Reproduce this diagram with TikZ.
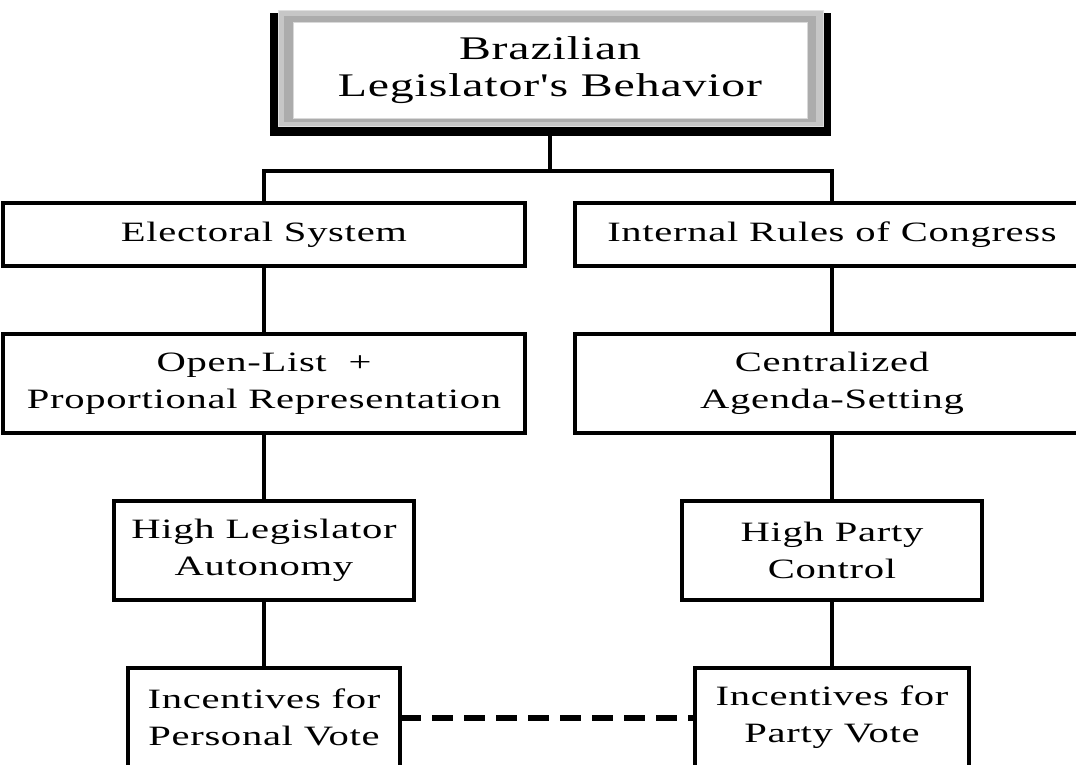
\documentclass[tikz,border=0pt]{standalone}
\usepackage{fontspec}
\setmainfont{Liberation Serif}[Ligatures=TeXOff, FakeStretch=1.45, LetterSpace=2.5]
\usepackage{tikz}
\usetikzlibrary{positioning, calc, backgrounds}

\begin{document}
\begin{tikzpicture}[
  x=1pt, y=-1pt,
  box/.style={draw, line width=3.3pt, outer sep=0pt, fill=white, align=center,
              minimum height=99pt, inner sep=0pt,
              font=\fontsize{28}{37}\selectfont},
  topbox/.style={box, draw=gray!30, line width=1pt, minimum width=514pt,
                 minimum height=96pt, font=\fontsize{33}{37}\selectfont},
  conn/.style={line width=3.3pt},
  dashlink/.style={line width=6pt, dash pattern=on 21pt off 11pt},
]
  \useasboundingbox (0,0) rectangle (1076,764);
  \clip (0,0) rectangle (1076,764);

  \node[topbox] (beh) at (550,70) {Brazilian\\Legislator's Behavior};
  \begin{scope}[on background layer]
    \fill[black] ($(beh.north west)+(-23,-9)$) rectangle ($(beh.south east)+(24,18)$);
    \filldraw[fill=gray!45, draw=gray!25, line width=1pt]
      ($(beh.north west)+(-15,-12)$) rectangle ($(beh.south east)+(16,8)$);
    \fill[gray!65] ($(beh.north west)+(-9,-6)$) rectangle ($(beh.south east)+(9,4)$);
  \end{scope}
  \coordinate (behb) at ($(beh.south)+(0,18)$);

  \node[box, minimum width=522pt, minimum height=63pt] (elec) at (264,234.5) {Electoral System};
  \node[box, minimum width=514pt, minimum height=63pt, right=50pt of elec] (rules) {Internal Rules of Congress};
  \node[box, minimum width=522pt, below=68pt of elec]    (openl)   {Open-List\ \ +\\Proportional Representation};
  \node[box, minimum width=514pt, below=68pt of rules]   (central) {Centralized\\Agenda-Setting};
  \node[box, minimum width=300pt, below=68pt of openl]   (auton)   {High Legislator\\Autonomy};
  \node[box, minimum width=300pt, below=68pt of central] (hictrl)  {High Party\\Control};
  \node[box, minimum width=272pt, below=68pt of auton]   (persv)   {Incentives for\\Personal Vote};
  \node[box, minimum width=274pt, below=68pt of hictrl]  (partyv)  {Incentives for\\Party Vote};

  \draw[conn] (behb) -- ++(0,35) coordinate (split) -| (elec.north);
  \draw[conn] (split) -| (rules.north);
  \draw[conn] (elec)    -- (openl);
  \draw[conn] (openl)   -- (auton);
  \draw[conn] (auton)   -- (persv);
  \draw[conn] (rules)   -- (central);
  \draw[conn] (central) -- (hictrl);
  \draw[conn] (hictrl)  -- (partyv);
  \draw[dashlink] (persv) -- (partyv);
\end{tikzpicture}
\end{document}
